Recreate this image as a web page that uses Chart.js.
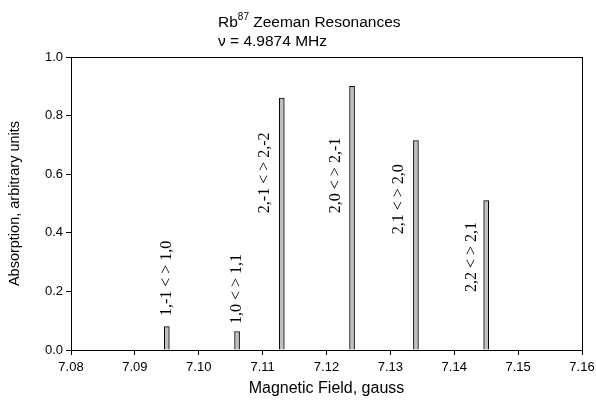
<!DOCTYPE html>
<html>
<head>
<meta charset="utf-8">
<script src="https://cdn.jsdelivr.net/npm/chart.js@4"></script>
<style>
  html, body { margin: 0; padding: 0; background: #fff; }
  #wrap { width: 596px; height: 402px; }
</style>
</head>
<body>
<div id="wrap"><canvas id="chart" width="596" height="402"></canvas></div>
<script>
// Dados
const fieldValues = [7.095, 7.106, 7.113, 7.124, 7.134, 7.145];
const absorption = [0.08, 0.063, 0.86, 0.90, 0.715, 0.51];
const transitionLabels = ['1,-1 < > 1,0', '1,0 < > 1,1', '2,-1 < > 2,-2', '2,0 < > 2,-1', '2,1 < > 2,0', '2,2 < > 2,1'];
// posição (em unidades dos eixos) do início de cada rótulo vertical
const labelX = [7.095, 7.106, 7.1103, 7.1214, 7.1313, 7.1427];
const labelY = [0.116, 0.089, 0.467, 0.467, 0.395, 0.198];

const SANS = '"Liberation Sans", Arial, sans-serif';
const SERIF = '"Liberation Serif", "Times New Roman", serif';

// Moldura + títulos + rótulos das transições
const decorPlugin = {
    id: 'decor',
    afterDraw(chart) {
        const { ctx, chartArea: a, scales } = chart;
        ctx.save();
        ctx.strokeStyle = '#000';
        ctx.lineWidth = 1;
        ctx.strokeRect(a.left + 0.5, a.top + 0.5, a.right - a.left, a.bottom - a.top);

        // título
        ctx.fillStyle = '#000';
        ctx.textAlign = 'left';
        ctx.textBaseline = 'alphabetic';
        ctx.font = '15.5px ' + SANS;
        let x = 218;
        ctx.fillText('Rb', x, 27);
        x += ctx.measureText('Rb').width;
        ctx.font = '10px ' + SANS;
        ctx.fillText('87', x, 20);
        x += ctx.measureText('87').width;
        ctx.font = '15.5px ' + SANS;
        ctx.fillText(' Zeeman Resonances', x, 27);
        ctx.fillText('\u03bd = 4.9874 MHz', 218, 46);

        // rótulos verticais
        ctx.font = '16px ' + SERIF;
        ctx.textBaseline = 'middle';
        transitionLabels.forEach((t, i) => {
            const px = scales.x.getPixelForValue(labelX[i]);
            const py = scales.y.getPixelForValue(labelY[i]);
            ctx.save();
            ctx.translate(px, py);
            ctx.rotate(-Math.PI / 2);
            ctx.fillText(t, 0, 0);
            ctx.restore();
        });
        ctx.restore();
    }
};

new Chart(document.getElementById('chart'), {
    type: 'bar',
    data: {
        datasets: [{
            data: fieldValues.map((v, i) => ({ x: v, y: absorption[i] })),
            backgroundColor: '#c0c0c0',
            borderColor: '#000',
            borderWidth: 1,
            barThickness: 5
        }]
    },
    options: {
        responsive: false,
        animation: false,
        layout: { padding: { top: 57, right: 14, left: 0, bottom: 0 } },
        plugins: {
            legend: { display: false },
            tooltip: { enabled: false }
        },
        scales: {
            x: {
                type: 'linear',
                min: 7.08,
                max: 7.16,
                offset: false,
                grid: { drawOnChartArea: false, offset: false, color: '#000', tickLength: 5 },
                border: { color: '#000' },
                ticks: {
                    stepSize: 0.01,
                    color: '#000',
                    font: { family: SANS, size: 13 },
                    padding: 5,
                    callback: v => v.toFixed(2)
                },
                title: {
                    display: true,
                    text: 'Magnetic Field, gauss',
                    color: '#000',
                    font: { family: SANS, size: 16 },
                    padding: { top: 5 }
                },
                afterFit(scale) {
                    scale.height = 52;
                    scale.paddingRight = 0;
                    scale.paddingLeft = 0;
                }
            },
            y: {
                min: 0,
                max: 1,
                grid: { drawOnChartArea: false, color: '#000', tickLength: 5 },
                border: { color: '#000' },
                ticks: {
                    stepSize: 0.2,
                    color: '#000',
                    font: { family: SANS, size: 13 },
                    padding: 3,
                    callback: v => v.toFixed(1)
                },
                title: {
                    display: true,
                    text: 'Absorption, arbitrary units',
                    color: '#000',
                    font: { family: SANS, size: 14.5 },
                    padding: { top: 6, bottom: 2 }
                },
                afterFit(scale) { scale.width = 71; }
            }
        }
    },
    plugins: [decorPlugin]
});
</script>
</body>
</html>
